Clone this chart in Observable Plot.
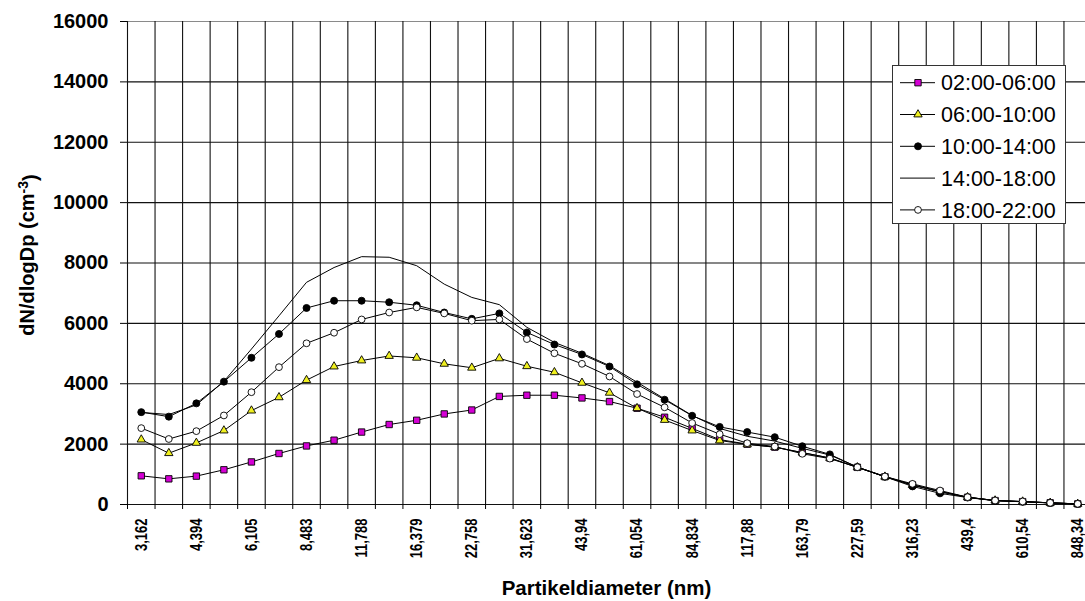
<!DOCTYPE html>
<html><head><meta charset="utf-8">
<script src="https://cdn.jsdelivr.net/npm/d3@7"></script>
<script src="https://cdn.jsdelivr.net/npm/@observablehq/plot@0.6"></script>
<style>
body{margin:0;background:#fff;}
#wrap{position:relative;width:1085px;height:601px;overflow:hidden;font-family:"Liberation Sans",Arial,sans-serif;background:#fff;}
#legend{position:absolute;left:892px;top:65px;}
</style></head><body><div id="wrap"></div>
<script>
// Particle diameter categories (nm)
const categories = ["3,162","3,728","4,394","5,179","6,105","7,197","8,483","10","11,788","13,895","16,379","19,307","22,758","26,827","31,623","37,276","43,94","51,795","61,054","71,969","84,834","100","117,88","138,95","163,79","193,07","227,59","268,27","316,23","372,76","439,4","517,95","610,54","719,69","848,34"];
const seriesNames = ["02:00-06:00","06:00-10:00","10:00-14:00","14:00-18:00","18:00-22:00"];
const s0206 = [950,850,940,1150,1410,1690,1940,2130,2400,2650,2790,3000,3130,3580,3620,3620,3530,3410,3190,2890,2520,2150,2000,1900,1720,1540,1230,920,650,430,240,130,95,55,20];
const s0610 = [2150,1700,2040,2450,3110,3550,4120,4570,4770,4920,4860,4660,4530,4840,4580,4380,4030,3700,3190,2800,2450,2120,1990,1900,1720,1540,1230,920,640,420,240,130,95,55,20];
const s1014 = [3060,2910,3350,4070,4860,5650,6510,6750,6750,6700,6600,6360,6150,6330,5700,5300,4970,4570,3980,3470,2940,2570,2400,2230,1930,1660,1240,920,600,370,230,125,90,50,20];
const s1418 = [3050,2980,3300,4080,5150,6250,7360,7850,8210,8190,7910,7300,6860,6620,5870,5370,5010,4600,4050,3500,2950,2520,2260,2100,1860,1640,1240,930,650,430,240,130,95,55,20];
const s1822 = [2530,2170,2430,2950,3720,4550,5340,5690,6130,6360,6530,6330,6090,6130,5480,5010,4660,4240,3660,3220,2700,2330,2030,1920,1680,1520,1235,927,684,463,243,132,99,55,22];
const yTicks = [0,2000,4000,6000,8000,10000,12000,14000,16000];
const xTitle = "Partikeldiameter (nm)";
const yTitle = "dN/dlogDp (cm-3)";

const seriesValues = [s0206, s0610, s1014, s1418, s1822];
const styles = [
  {symbol:"square", r:3.6, fill:"#d400d4"},
  {symbol:"triangle", r:3.1, fill:"#f0f020"},
  {symbol:"circle", r:3.5, fill:"#000"},
  {symbol:null},
  {symbol:"circle", r:3.4, fill:"#fff"}
];
const rows = seriesValues.map((vals, si) => vals.map((v, i) => ({series: seriesNames[si], i, v})));

const boundaries = d3.range(categories.length + 1).map(i => i - 0.5);
const labelIdx = d3.range(0, categories.length, 2);

const seriesMarks = [];
rows.forEach((data, si) => {
  seriesMarks.push(Plot.line(data, {x:"i", y:"v", stroke:"#000", strokeWidth:1}));
  const st = styles[si];
  if (st.symbol) seriesMarks.push(Plot.dot(data, {x:"i", y:"v", symbol:st.symbol, r:st.r, fill:st.fill, stroke:"#000", strokeWidth:0.9}));
});

const chart = Plot.plot({
  width:1085, height:601,
  marginLeft:127, marginRight:0, marginTop:21, marginBottom:97,
  style:{fontFamily:"Liberation Sans, Arial, sans-serif", background:"#fff", color:"#000", overflow:"hidden"},
  x:{type:"linear", domain:[-0.5, categories.length - 0.5], range:[127, 1091]},
  y:{domain:[0,16000], range:[504,21]},
  marks:[
    Plot.ruleY(yTicks, {stroke: d => d === 16000 ? "#8a8a8a" : "#111", strokeWidth:1.1}),
    Plot.ruleX(boundaries, {stroke:"#111", strokeWidth:1.1}),
    Plot.axisY(yTicks, {tickSize:7, tickPadding:12, fontSize:20, fontWeight:"bold", label:null, tickFormat:d => String(d)}),
    Plot.axisX(boundaries, {tickSize:5, tickFormat:() => "", label:null}),
    Plot.axisX(labelIdx, {tickSize:0, tickPadding:14, tickRotate:-90, fontSize:13, fontWeight:"bold", label:null, tickFormat:i => categories[i], ariaLabel:"x-labels"}),
    ...seriesMarks,
    Plot.text([xTitle], {text:d => d, frameAnchor:"bottom", dy:90, fontSize:20.5, fontWeight:"bold"}),
    Plot.text([yTitle], {text:d => d, frameAnchor:"left", textAnchor:"middle", lineAnchor:"middle", dx:-100, dy:-8, rotate:-90, fontSize:20, fontWeight:"bold"})
  ]
});

// superscript in y title
d3.select(chart).selectAll("text").filter(function(){ return this.textContent === yTitle; }).each(function(){
  const t = d3.select(this);
  t.text(null);
  t.append("tspan").text("dN/dlogDp (cm");
  t.append("tspan").attr("dy", "-0.45em").attr("font-size", "70%").text("-3");
  t.append("tspan").attr("dy", "0.45em").text(")");
});

// widen the rotated category labels' glyphs like the original
const catSet = new Set(categories);
d3.select(chart).selectAll("text").filter(function(){ return catSet.has(this.textContent) && /rotate/.test(this.getAttribute("transform") || ""); }).each(function(){
  this.setAttribute("transform", this.getAttribute("transform") + " scale(1,1.3)");
});

const wrap = document.getElementById("wrap");
wrap.appendChild(chart);

// Legend
const lw = 174, lh = 159, rowY0 = 17.7, rowStep = 31.8;
const leg = d3.select(wrap).append("svg").attr("id","legend").attr("width", lw).attr("height", lh);
leg.append("rect").attr("x",0.5).attr("y",0.5).attr("width",lw-1).attr("height",lh-1).attr("fill","#fff").attr("stroke","#333");
seriesNames.forEach((name, si) => {
  const y = rowY0 + si * rowStep;
  const g = leg.append("g").attr("transform", `translate(0,${y})`);
  g.append("line").attr("x1",8).attr("x2",43).attr("y1",0).attr("y2",0).attr("stroke","#000");
  const st = styles[si];
  if (st.symbol === "circle") {
    g.append("circle").attr("cx",26).attr("cy",0).attr("r",st.r).attr("fill",st.fill).attr("stroke","#000").attr("stroke-width",0.9);
  } else if (st.symbol) {
    const type = st.symbol === "square" ? d3.symbolSquare : d3.symbolTriangle;
    g.append("path").attr("transform","translate(26,0)").attr("d", d3.symbol(type, st.r*st.r*Math.PI)()).attr("fill",st.fill).attr("stroke","#000").attr("stroke-width",0.9);
  }
  g.append("text").attr("x",49).attr("y",0).attr("dy","0.36em").attr("font-size",21.5).attr("font-family","Liberation Sans, Arial, sans-serif").text(name);
});
</script></body></html>
